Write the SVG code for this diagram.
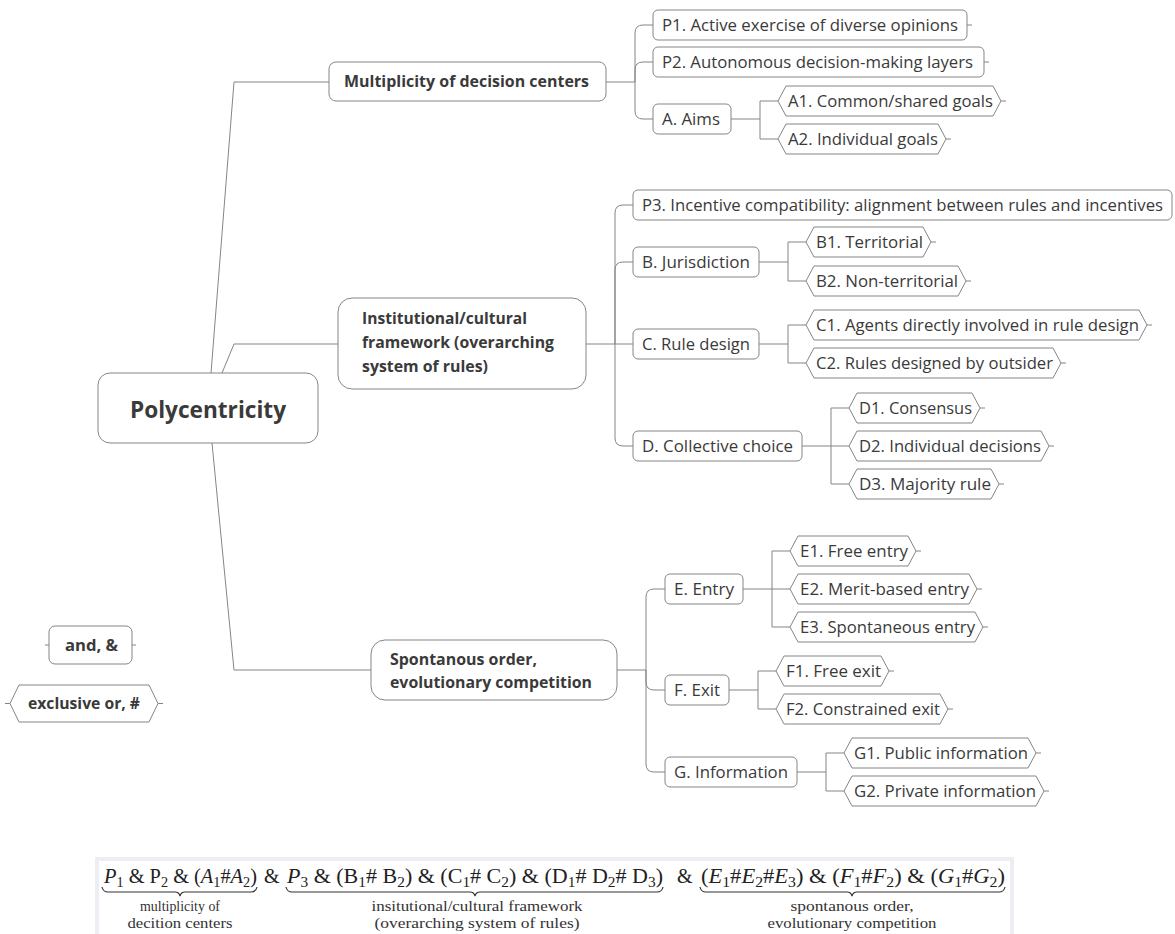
<svg xmlns="http://www.w3.org/2000/svg" width="1175" height="934" viewBox="0 0 1175 934">
<style>
.n{fill:#fff;stroke:#858585;stroke-width:1;stroke-linejoin:round}
.c{fill:none;stroke:#858585;stroke-width:1}
.t{font-family:"Open Sans","Liberation Sans",sans-serif;font-size:16px;fill:#3a3a3a}
.b{font-weight:bold}
.big{font-size:24px}
.f{font-family:"Liberation Serif",serif;font-size:20px;fill:#222}
.s{font-size:14px}
.i{font-style:italic}
.l{font-family:"Liberation Serif",serif;font-size:15px;fill:#333;text-anchor:middle}
</style>
<rect width="1175" height="934" fill="#fff"/>
<g id="connectors">
<path class="c" d="M211,373 L234,82 H329"/>
<path class="c" d="M222,373 L234,344 H338"/>
<path class="c" d="M212,443 L234,670 H371"/>
<path class="c" d="M606,82 H635 M635,82 V33 Q635,25 643,25 H653 M635,82 V70 Q635,62 643,62 H653 M635,82 V111 Q635,119 643,119 H653"/>
<path class="c" d="M586,344 H633 M615,344 V213 Q615,205 623,205 H633 M615,344 V270 Q615,262 623,262 H633 M615,344 V438 Q615,446 623,446 H633"/>
<path class="c" d="M617,670 H646 M646,670 V597 Q646,589 654,589 H665 M646,670 V682 Q646,690 654,690 H665 M646,670 V764 Q646,772 654,772 H665"/>
<path class="c" d="M731,119 H760 M760,101 V139 M760,101 H778 M760,139 H778"/>
<path class="c" d="M759,262 H788 M788,242 V281 M788,242 H806 M788,281 H806"/>
<path class="c" d="M759,344 H788 M788,325 V363 M788,325 H806 M788,363 H806"/>
<path class="c" d="M802,446 H849 M831,408 V484 M831,408 H849 M831,484 H849"/>
<path class="c" d="M743,589 H790 M772,551 V627 M772,551 H790 M772,627 H790"/>
<path class="c" d="M729,690 H758 M758,671 V709 M758,671 H776 M758,709 H776"/>
<path class="c" d="M797,772 H826 M826,753 V791 M826,753 H844 M826,791 H844"/>
<path class="c" d="M967,25 h5 M984,62 h5 M1001,101 h5 M946,139 h5 M931,242 h5 M966,281 h5 M1147,325 h5 M1061,363 h5 M980,408 h5 M1049,446 h5 M999,484 h5 M916,551 h5 M977,589 h5 M983,627 h5 M889,671 h5 M948,709 h5 M1036,753 h5 M1044,791 h5"/>
<path class="c" d="M45,645 h4 M132,645 h4 M5,703.5 h5 M158,703.5 h5"/>
</g>
<g id="polycentricity">
<rect class="n" x="98" y="373" width="220" height="70" rx="12"/>
<text class="t b big" x="130" y="418" textLength="156" lengthAdjust="spacingAndGlyphs">Polycentricity</text>
</g>
<g id="multiplicity">
<rect class="n" x="329" y="62" width="277" height="39" rx="7"/>
<text class="t b" x="344" y="87" textLength="245" lengthAdjust="spacingAndGlyphs">Multiplicity of decision centers</text>
</g>
<g id="institutional">
<rect class="n" x="338" y="298" width="248" height="91" rx="14"/>
<text class="t b" x="362" y="324" textLength="165" lengthAdjust="spacingAndGlyphs">Institutional/cultural</text>
<text class="t b" x="362" y="348" textLength="192" lengthAdjust="spacingAndGlyphs">framework (overarching</text>
<text class="t b" x="362" y="372" textLength="126" lengthAdjust="spacingAndGlyphs">system of rules)</text>
</g>
<g id="spontaneous">
<rect class="n" x="371" y="640" width="246" height="60" rx="14"/>
<text class="t b" x="390" y="665" textLength="147" lengthAdjust="spacingAndGlyphs">Spontanous order,</text>
<text class="t b" x="390" y="688" textLength="202" lengthAdjust="spacingAndGlyphs">evolutionary competition</text>
</g>
<g id="p1"><rect class="n" x="653" y="10" width="314" height="30" rx="5"/><text class="t" x="662" y="30.5" textLength="296" lengthAdjust="spacingAndGlyphs">P1. Active exercise of diverse opinions</text></g>
<g id="p2"><rect class="n" x="653" y="47" width="331" height="30" rx="5"/><text class="t" x="662" y="67.5" textLength="311" lengthAdjust="spacingAndGlyphs">P2. Autonomous decision-making layers</text></g>
<g id="a"><rect class="n" x="653" y="104" width="78" height="30" rx="5"/><text class="t" x="662" y="124.5" textLength="58" lengthAdjust="spacingAndGlyphs">A. Aims</text></g>
<g id="a1"><path class="n" d="M778,101 L786,86 H993 L1001,101 L993,116 H786 Z"/><text class="t" x="788" y="106.5" textLength="205" lengthAdjust="spacingAndGlyphs">A1. Common/shared goals</text></g>
<g id="a2"><path class="n" d="M778,139 L786,124 H938 L946,139 L938,154 H786 Z"/><text class="t" x="788" y="144.5" textLength="150" lengthAdjust="spacingAndGlyphs">A2. Individual goals</text></g>
<g id="p3"><rect class="n" x="633" y="190" width="539" height="30" rx="5"/><text class="t" x="642" y="210.5" textLength="521" lengthAdjust="spacingAndGlyphs">P3. Incentive compatibility: alignment between rules and incentives</text></g>
<g id="b"><rect class="n" x="633" y="247" width="126" height="30" rx="5"/><text class="t" x="642" y="267.5" textLength="108" lengthAdjust="spacingAndGlyphs">B. Jurisdiction</text></g>
<g id="b1"><path class="n" d="M806,242 L814,227 H923 L931,242 L923,257 H814 Z"/><text class="t" x="816" y="247.5" textLength="107" lengthAdjust="spacingAndGlyphs">B1. Territorial</text></g>
<g id="b2"><path class="n" d="M806,281 L814,266 H958 L966,281 L958,296 H814 Z"/><text class="t" x="816" y="286.5" textLength="142" lengthAdjust="spacingAndGlyphs">B2. Non-territorial</text></g>
<g id="c"><rect class="n" x="633" y="329" width="126" height="30" rx="5"/><text class="t" x="642" y="349.5" textLength="108" lengthAdjust="spacingAndGlyphs">C. Rule design</text></g>
<g id="c1"><path class="n" d="M806,325 L814,310 H1139 L1147,325 L1139,340 H814 Z"/><text class="t" x="816" y="330.5" textLength="323" lengthAdjust="spacingAndGlyphs">C1. Agents directly involved in rule design</text></g>
<g id="c2"><path class="n" d="M806,363 L814,348 H1053 L1061,363 L1053,378 H814 Z"/><text class="t" x="816" y="368.5" textLength="237" lengthAdjust="spacingAndGlyphs">C2. Rules designed by outsider</text></g>
<g id="d"><rect class="n" x="633" y="431" width="169" height="30" rx="5"/><text class="t" x="642" y="451.5" textLength="151" lengthAdjust="spacingAndGlyphs">D. Collective choice</text></g>
<g id="d1"><path class="n" d="M849,408 L857,393 H972 L980,408 L972,423 H857 Z"/><text class="t" x="859" y="413.5" textLength="113" lengthAdjust="spacingAndGlyphs">D1. Consensus</text></g>
<g id="d2"><path class="n" d="M849,446 L857,431 H1041 L1049,446 L1041,461 H857 Z"/><text class="t" x="859" y="451.5" textLength="182" lengthAdjust="spacingAndGlyphs">D2. Individual decisions</text></g>
<g id="d3"><path class="n" d="M849,484 L857,469 H991 L999,484 L991,499 H857 Z"/><text class="t" x="859" y="489.5" textLength="132" lengthAdjust="spacingAndGlyphs">D3. Majority rule</text></g>
<g id="e"><rect class="n" x="665" y="574" width="78" height="30" rx="5"/><text class="t" x="674" y="594.5" textLength="60" lengthAdjust="spacingAndGlyphs">E. Entry</text></g>
<g id="e1"><path class="n" d="M790,551 L798,536 H908 L916,551 L908,566 H798 Z"/><text class="t" x="800" y="556.5" textLength="108" lengthAdjust="spacingAndGlyphs">E1. Free entry</text></g>
<g id="e2"><path class="n" d="M790,589 L798,574 H969 L977,589 L969,604 H798 Z"/><text class="t" x="800" y="594.5" textLength="169" lengthAdjust="spacingAndGlyphs">E2. Merit-based entry</text></g>
<g id="e3"><path class="n" d="M790,627 L798,612 H975 L983,627 L975,642 H798 Z"/><text class="t" x="800" y="632.5" textLength="175" lengthAdjust="spacingAndGlyphs">E3. Spontaneous entry</text></g>
<g id="f"><rect class="n" x="665" y="675" width="64" height="30" rx="5"/><text class="t" x="674" y="695.5" textLength="46" lengthAdjust="spacingAndGlyphs">F. Exit</text></g>
<g id="f1"><path class="n" d="M776,671 L784,656 H881 L889,671 L881,686 H784 Z"/><text class="t" x="786" y="676.5" textLength="95" lengthAdjust="spacingAndGlyphs">F1. Free exit</text></g>
<g id="f2"><path class="n" d="M776,709 L784,694 H940 L948,709 L940,724 H784 Z"/><text class="t" x="786" y="714.5" textLength="154" lengthAdjust="spacingAndGlyphs">F2. Constrained exit</text></g>
<g id="g"><rect class="n" x="665" y="757" width="132" height="30" rx="5"/><text class="t" x="674" y="777.5" textLength="114" lengthAdjust="spacingAndGlyphs">G. Information</text></g>
<g id="g1"><path class="n" d="M844,753 L852,738 H1028 L1036,753 L1028,768 H852 Z"/><text class="t" x="854" y="758.5" textLength="174" lengthAdjust="spacingAndGlyphs">G1. Public information</text></g>
<g id="g2"><path class="n" d="M844,791 L852,776 H1036 L1044,791 L1036,806 H852 Z"/><text class="t" x="854" y="796.5" textLength="182" lengthAdjust="spacingAndGlyphs">G2. Private information</text></g>
<g id="legend-and"><rect class="n" x="49" y="626" width="83" height="38" rx="6"/><text class="t b" x="65" y="650.5" textLength="53" lengthAdjust="spacingAndGlyphs">and, &amp;</text></g>
<g id="legend-xor"><path class="n" d="M10,703.5 L19,685 H149 L158,703.5 L149,722 H19 Z"/><text class="t b" x="28" y="709" textLength="112" lengthAdjust="spacingAndGlyphs">exclusive or, #</text></g>
<g id="formula">
<rect x="97" y="859" width="915" height="80" fill="#fff" stroke="#eceef4" stroke-width="4"/>
<text class="f" x="104" y="883" textLength="153" lengthAdjust="spacingAndGlyphs"><tspan class="i">P</tspan><tspan class="s" dy="4">1</tspan><tspan dy="-4"> &amp; P</tspan><tspan class="s" dy="4">2</tspan><tspan dy="-4"> &amp; (</tspan><tspan class="i">A</tspan><tspan class="s" dy="4">1</tspan><tspan dy="-4">#</tspan><tspan class="i">A</tspan><tspan class="s" dy="4">2</tspan><tspan dy="-4">)</tspan></text>
<text class="f" x="264" y="883">&amp;</text>
<text class="f" x="287" y="883" textLength="376" lengthAdjust="spacingAndGlyphs"><tspan class="i">P</tspan><tspan class="s" dy="4">3</tspan><tspan dy="-4"> &amp; (B</tspan><tspan class="s" dy="4">1</tspan><tspan dy="-4"># B</tspan><tspan class="s" dy="4">2</tspan><tspan dy="-4">) &amp; (C</tspan><tspan class="s" dy="4">1</tspan><tspan dy="-4"># C</tspan><tspan class="s" dy="4">2</tspan><tspan dy="-4">) &amp; (D</tspan><tspan class="s" dy="4">1</tspan><tspan dy="-4"># D</tspan><tspan class="s" dy="4">2</tspan><tspan dy="-4"># D</tspan><tspan class="s" dy="4">3</tspan><tspan dy="-4">)</tspan></text>
<text class="f" x="677" y="883">&amp;</text>
<text class="f" x="701" y="883" textLength="304" lengthAdjust="spacingAndGlyphs">(<tspan class="i">E</tspan><tspan class="s" dy="4">1</tspan><tspan dy="-4">#</tspan><tspan class="i">E</tspan><tspan class="s" dy="4">2</tspan><tspan dy="-4">#</tspan><tspan class="i">E</tspan><tspan class="s" dy="4">3</tspan><tspan dy="-4">) &amp; (</tspan><tspan class="i">F</tspan><tspan class="s" dy="4">1</tspan><tspan dy="-4">#</tspan><tspan class="i">F</tspan><tspan class="s" dy="4">2</tspan><tspan dy="-4">) &amp; (</tspan><tspan class="i">G</tspan><tspan class="s" dy="4">1</tspan><tspan dy="-4">#</tspan><tspan class="i">G</tspan><tspan class="s" dy="4">2</tspan><tspan dy="-4">)</tspan></text>
<path fill="none" stroke="#333" stroke-width="1.2" d="M102,887 q1,5 6,5 H175 q4,0 5,4 q1,-4 5,-4 H251 q5,0 6,-5"/>
<path fill="none" stroke="#333" stroke-width="1.2" d="M286,887 q1,5 6,5 H470 q4,0 5,4 q1,-4 5,-4 H657 q5,0 6,-5"/>
<path fill="none" stroke="#333" stroke-width="1.2" d="M700,887 q1,5 6,5 H847 q4,0 5,4 q1,-4 5,-4 H999 q5,0 6,-5"/>
<text class="l" x="180" y="911" textLength="80" lengthAdjust="spacingAndGlyphs">multiplicity of</text>
<text class="l" x="180" y="928" textLength="105" lengthAdjust="spacingAndGlyphs">decition centers</text>
<text class="l" x="477" y="911" textLength="211" lengthAdjust="spacingAndGlyphs">insitutional/cultural framework</text>
<text class="l" x="477" y="928" textLength="205" lengthAdjust="spacingAndGlyphs">(overarching system of rules)</text>
<text class="l" x="852" y="911" textLength="123" lengthAdjust="spacingAndGlyphs">spontanous order,</text>
<text class="l" x="852" y="928" textLength="169" lengthAdjust="spacingAndGlyphs">evolutionary competition</text>
</g>
</svg>
